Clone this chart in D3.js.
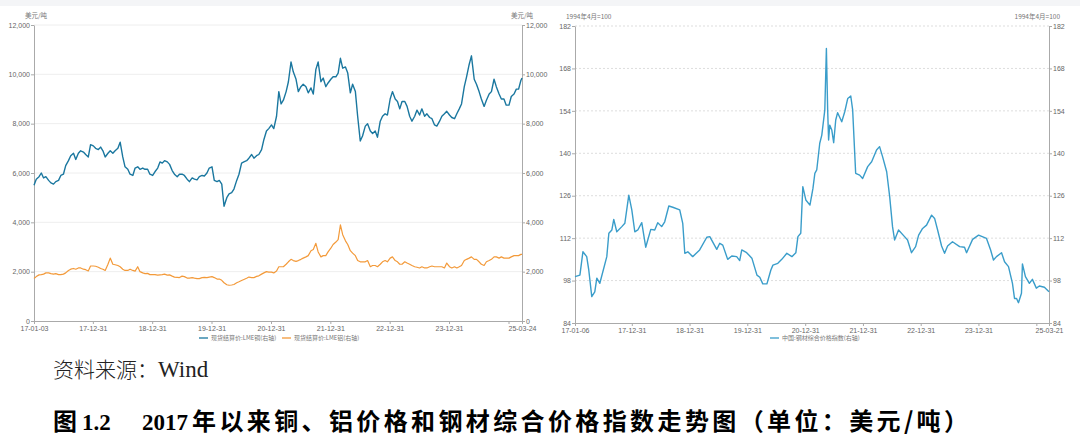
<!DOCTYPE html>
<html><head><meta charset="utf-8">
<script src="https://cdn.jsdelivr.net/npm/d3@7"></script>
<style>
body{margin:0;background:#fff;}
svg{display:block;}
.axis text{font-family:"Liberation Sans",Arial,sans-serif;font-size:7px;fill:#666;}
.axis path,.axis line{stroke:#aaa;}
</style></head><body>
<svg id="c" width="1080" height="443"></svg>
<script>
// ---------- DATA ----------
const metalStart = "2017-01-03", metalEnd = "2025-03-24";
// LME copper, USD/t, values on the 3rd and 17th of each month (2017-01 .. 2025-03), then 2025-03-24
const copper = [
 5500,5750,5850,6000,5800,5850,5700,5600,5550,5650,5700,5900,5950,6300,6500,6700,6800,6550,6800,6900,6850,6750,6650,7150,
 7100,7000,6950,7050,6900,6650,6800,6900,6800,6900,7000,7250,6650,6250,6150,5950,5900,6200,6250,6150,6200,6150,6150,5950,
 5900,6050,6200,6450,6400,6500,6450,6350,6100,5950,5850,5950,5950,5900,5750,5650,5800,5750,5720,5850,5900,5880,6000,6200,
 6250,5700,5650,5700,5550,4650,5000,5150,5200,5350,5700,5950,6400,6450,6500,6600,6750,6600,6700,6750,6950,7350,7700,7800,
 7950,7800,8300,9300,8800,8950,9300,9700,10500,10100,9800,9300,9500,9600,9500,9250,9450,9200,10200,10500,9700,9850,9500,9650,
 9800,9900,9900,10050,10650,10250,10300,10050,9250,9600,9300,8300,7300,7500,7900,8000,7700,7600,7700,7450,8100,8300,8400,8350,
 9000,9300,9000,8900,8600,8900,8900,8700,8300,8100,8300,8550,8350,8600,8300,8400,8250,8200,7950,7900,8100,8300,8400,8500,
 8350,8250,8200,8400,8600,8800,9500,9900,10400,10750,9800,9600,9300,9000,8700,8950,9200,9300,9800,9500,9200,9000,9000,8750,
 8750,9100,9200,9400,9400,9750,9850
];
// LME aluminium, USD/t, same dates
const aluminium = [
 1720,1800,1870,1880,1900,1950,1950,1920,1900,1920,1880,1880,1900,1950,2050,2100,2130,2100,2150,2150,2100,2080,2030,2230,
 2230,2220,2180,2130,2100,2050,2300,2550,2300,2280,2250,2200,2100,2050,2050,2100,2050,2020,2200,2000,1950,1920,1930,1880,
 1880,1880,1860,1870,1880,1900,1860,1870,1820,1780,1770,1760,1820,1800,1740,1740,1760,1740,1720,1720,1760,1770,1760,1780,
 1800,1760,1700,1700,1650,1550,1470,1450,1460,1480,1550,1590,1640,1680,1730,1780,1760,1760,1810,1830,1900,1950,2000,1980,
 1980,1950,2030,2200,2200,2200,2300,2400,2500,2450,2420,2450,2500,2550,2600,2650,2850,2900,3150,2800,2600,2650,2650,2800,
 2950,3100,3200,3300,3900,3500,3250,3100,2850,2750,2650,2450,2400,2400,2400,2450,2200,2250,2250,2200,2300,2400,2450,2400,
 2550,2600,2450,2400,2300,2300,2400,2350,2300,2250,2200,2180,2150,2200,2150,2150,2200,2230,2200,2200,2200,2200,2150,2350,
 2200,2150,2200,2150,2200,2250,2450,2500,2550,2600,2500,2500,2400,2300,2250,2400,2450,2500,2600,2600,2550,2600,2550,2550,
 2550,2600,2650,2650,2650,2700,2700
];
const metalTicksY = [0,2000,4000,6000,8000,10000,12000];
const metalTickDates = ["2017-01-03","2017-12-31","2018-12-31","2019-12-31","2020-12-31","2021-12-31","2022-12-31","2023-12-31","2024-12-31","2025-03-24"];
const metalTickLabels = ["17-01-03","17-12-31","18-12-31","19-12-31","20-12-31","21-12-31","22-12-31","23-12-31","","25-03-24"];
const metalLegend = ["现货结算价:LME铜(右轴)","现货结算价:LME铝(右轴)"];

// China steel composite price index (1994-04 = 100)
const steelDates = ["2017-01-06","2017-02-06","2017-02-25","2017-03-21","2017-04-03","2017-04-22","2017-05-11","2017-05-24","2017-06-12","2017-07-26",
 "2017-08-08","2017-08-27","2017-09-08","2017-09-27","2017-10-29","2017-11-17","2017-12-12","2017-12-31","2018-01-19","2018-02-07",
 "2018-03-04","2018-03-29","2018-04-30","2018-05-25","2018-06-13","2018-07-08","2018-07-27","2018-08-22","2018-09-16","2018-10-30",
 "2018-11-18","2018-12-01","2018-12-20","2019-01-20","2019-03-05","2019-04-19","2019-05-08","2019-06-21","2019-07-10","2019-07-29",
 "2019-08-29","2019-09-24","2019-10-25","2019-11-13","2019-11-26","2019-12-27","2020-01-29","2020-03-01","2020-03-19","2020-04-07",
 "2020-05-03","2020-05-28","2020-06-10","2020-07-11","2020-08-05","2020-09-06","2020-10-08","2020-11-02","2020-11-15","2020-12-03",
 "2020-12-16","2021-01-04","2021-01-30","2021-02-18","2021-03-02","2021-03-14","2021-04-02","2021-04-15","2021-05-04","2021-05-14",
 "2021-05-22","2021-05-28","2021-06-04","2021-06-17","2021-06-29","2021-07-12","2021-07-24","2021-08-19","2021-09-07","2021-09-26",
 "2021-10-15","2021-10-27","2021-11-15","2021-12-10","2021-12-29","2022-01-30","2022-02-24","2022-03-27","2022-04-15","2022-05-04",
 "2022-05-30","2022-06-18","2022-07-06","2022-07-19","2022-08-13","2022-09-20","2022-10-09","2022-11-03","2022-11-29","2022-12-18",
 "2023-01-12","2023-02-06","2023-03-10","2023-03-29","2023-04-17","2023-05-12","2023-05-31","2023-06-19","2023-07-20","2023-09-03",
 "2023-10-04","2023-10-17","2023-11-24","2024-01-01","2024-02-20","2024-03-17","2024-04-04","2024-04-23","2024-05-25","2024-06-13",
 "2024-07-08","2024-08-02","2024-08-15","2024-08-28","2024-09-09","2024-09-28","2024-10-04","2024-10-23","2024-11-17","2024-12-06",
 "2024-12-31","2025-01-19","2025-02-20","2025-03-21"];
const steelValues = [99.3,99.8,107.5,105.9,101.5,92.7,94.3,98.8,97.1,105.9,
 113.6,114.7,118.2,114.1,115.8,116.9,126.2,121.3,114.1,114.7,
 117.1,109.0,114.9,114.7,117.1,115.8,117.4,122.6,122.2,121.3,
 116.9,107.0,107.5,105.9,108.1,112.3,112.5,108.3,110.3,109.7,
 105.0,106.1,105.9,104.6,108.1,107.2,105.4,99.8,99.1,96.9,
 96.9,101.5,103.1,103.7,105.0,107.0,105.9,107.2,112.5,113.6,
 129.0,124.6,122.9,128.4,133.4,134.5,143.3,146.0,154.3,174.6,
 154.3,144.4,149.3,147.7,143.5,151.0,153.4,150.4,153.7,158.1,
 158.9,154.3,133.4,132.8,131.7,135.6,137.2,141.1,142.2,138.9,
 133.9,125.7,115.8,111.4,114.7,112.5,111.4,107.2,109.2,113.0,
 115.2,116.3,119.6,118.5,114.7,109.4,107.0,109.4,110.8,109.2,
 109.0,107.2,111.6,113.0,111.9,108.1,104.8,105.9,107.2,104.2,
 102.6,97.1,92.1,92.1,90.7,93.8,103.5,99.3,97.1,98.4,
 95.5,96.2,95.8,94.3];
const steelTicksY = [84,98,112,126,140,154,168,182];
const steelTickDates = ["2017-01-06","2017-12-31","2018-12-31","2019-12-31","2020-12-31","2021-12-31","2022-12-31","2023-12-31","2024-12-31","2025-03-21"];
const steelTickLabels = ["17-01-06","17-12-31","18-12-31","19-12-31","20-12-31","21-12-31","22-12-31","23-12-31","","25-03-21"];
const steelLegend = ["中国:钢材综合价格指数(右轴)"];

const unitMetal = "美元/吨", unitSteel = "1994年4月=100";
const sourceText = "资料来源：Wind";
const titleParts = ["图", "1.2", "2017", "年以来铜、铝价格和钢材综合价格指数走势图（单位：美元/吨）"];

// ---------- DRAW ----------
const parse = d3.timeParse("%Y-%m-%d");
const svg = d3.select("#c");
svg.append("rect").attr("width",1080).attr("height",443).attr("fill","#fff");
svg.append("rect").attr("width",1080).attr("height",6).attr("fill","#f4f5f7");

// metal dates: 3rd and 17th of each month, then the final date
const metalDates = [];
d3.timeMonth.range(new Date(2017,0,1), new Date(2025,3,1)).forEach(m => {
  metalDates.push(new Date(m.getFullYear(), m.getMonth(), 3));
  metalDates.push(new Date(m.getFullYear(), m.getMonth(), 17));
});
metalDates.push(parse(metalEnd));

function panel(cfg){
  const g = svg.append("g");
  const x = d3.scaleTime().domain(cfg.domainX).range([cfg.x0,cfg.x1]);
  const y = d3.scaleLinear().domain(cfg.domainY).range([cfg.yb,cfg.yt]);
  g.append("g").selectAll("line").data(cfg.ticksY.slice(1)).join("line")
    .attr("x1",cfg.x0).attr("x2",cfg.x1).attr("y1",d=>y(d)).attr("y2",d=>y(d))
    .attr("stroke",cfg.gridColor).attr("stroke-dasharray",cfg.gridDash);
  g.append("g").attr("class","axis").attr("transform",`translate(${cfg.x0},0)`)
    .call(d3.axisLeft(y).tickValues(cfg.ticksY).tickSize(3).tickPadding(1).tickSizeOuter(0).tickFormat(cfg.fmt));
  g.append("g").attr("class","axis").attr("transform",`translate(${cfg.x1},0)`)
    .call(d3.axisRight(y).tickValues(cfg.ticksY).tickSize(3).tickPadding(1).tickSizeOuter(0).tickFormat(cfg.fmt));
  const td = cfg.tickDates.map(parse);
  g.append("g").attr("class","axis").attr("transform",`translate(0,${cfg.yb})`)
    .call(d3.axisBottom(x).tickValues(td).tickSize(3).tickPadding(2).tickSizeOuter(0)
      .tickFormat((d,i)=>cfg.tickLabels[i]));
  g.append("text").attr("x",cfg.x0-9).attr("y",cfg.yt-7).text(cfg.unit)
    .attr("font-size",6.5).attr("fill","#777").attr("font-family","Noto Sans CJK SC").attr("text-anchor","start");
  g.append("text").attr("x",cfg.x1+cfg.unitRightDx).attr("y",cfg.yt-7).text(cfg.unit)
    .attr("font-size",6.5).attr("fill","#777").attr("font-family","Noto Sans CJK SC").attr("text-anchor","end");
  cfg.series.forEach(s=>{
    const line = d3.line().x((d,i)=>x(s.dates[i])).y(d=>y(d));
    g.append("path").datum(s.values).attr("d",line).attr("fill","none")
      .attr("stroke",s.color).attr("stroke-width",s.width).attr("stroke-linejoin","round");
  });
  cfg.series.forEach((s,i)=>{
    const lx = cfg.legendX[i];
    g.append("line").attr("x1",lx).attr("x2",lx+9).attr("y1",338).attr("y2",338)
      .attr("stroke",s.color).attr("stroke-width",1.3);
    g.append("text").attr("x",lx+12).attr("y",340).text(s.name)
      .attr("font-size",6).attr("fill","#777").attr("font-family","Noto Sans CJK SC");
  });
}

panel({
  x0:34,x1:522,yt:25,yb:321,
  domainX:[parse(metalStart),parse(metalEnd)], domainY:[0,12000],
  ticksY:metalTicksY, fmt:d3.format(","), tickDates:metalTickDates, tickLabels:metalTickLabels,
  gridColor:"#eeeeee", gridDash:null, unit:unitMetal, unitRightDx:11,
  legendX:[199,282],
  series:[
    {name:metalLegend[0], dates:metalDates, values:copper, color:"#1a779f", width:1.4},
    {name:metalLegend[1], dates:metalDates, values:aluminium, color:"#f39a3a", width:1.2}
  ]
});

panel({
  x0:575,x1:1049,yt:26,yb:323,
  domainX:[parse(steelDates[0]),parse(steelDates[steelDates.length-1])], domainY:[84,182],
  ticksY:steelTicksY, fmt:d3.format("d"), tickDates:steelTickDates, tickLabels:steelTickLabels,
  gridColor:"#dddddd", gridDash:"2,2", unit:unitSteel, unitRightDx:11,
  legendX:[770],
  series:[
    {name:steelLegend[0], dates:steelDates.map(parse), values:steelValues, color:"#3a9dca", width:1.4}
  ]
});

// caption
const cap = svg.append("text").attr("x",53).attr("y",377).attr("fill","#222");
cap.append("tspan").attr("font-family","Noto Sans CJK SC").attr("font-weight",300).attr("font-size",21).text(sourceText.slice(0,5));
cap.append("tspan").attr("font-family","Liberation Serif").attr("font-size",23).text(sourceText.slice(5));

// title
const ty = 430;
svg.append("text").attr("x",53).attr("y",ty).attr("font-size",24).attr("font-weight","bold")
  .attr("font-family","Noto Sans CJK SC").attr("fill","#000").text(titleParts[0]);
svg.append("text").attr("x",82).attr("y",ty).attr("font-size",23).attr("font-weight","bold")
  .attr("font-family","Liberation Serif").attr("fill","#000").text(titleParts[1]);
svg.append("text").attr("x",142).attr("y",ty).attr("font-size",23).attr("font-weight","bold")
  .attr("font-family","Liberation Serif").attr("fill","#000").text(titleParts[2]);
svg.append("text").attr("x",192).attr("y",ty).attr("font-size",24).attr("font-weight","bold")
  .attr("font-family","Noto Sans CJK SC").attr("fill","#000")
  .attr("textLength",776).attr("lengthAdjust","spacing").text(titleParts[3]);
</script>
</body></html>
